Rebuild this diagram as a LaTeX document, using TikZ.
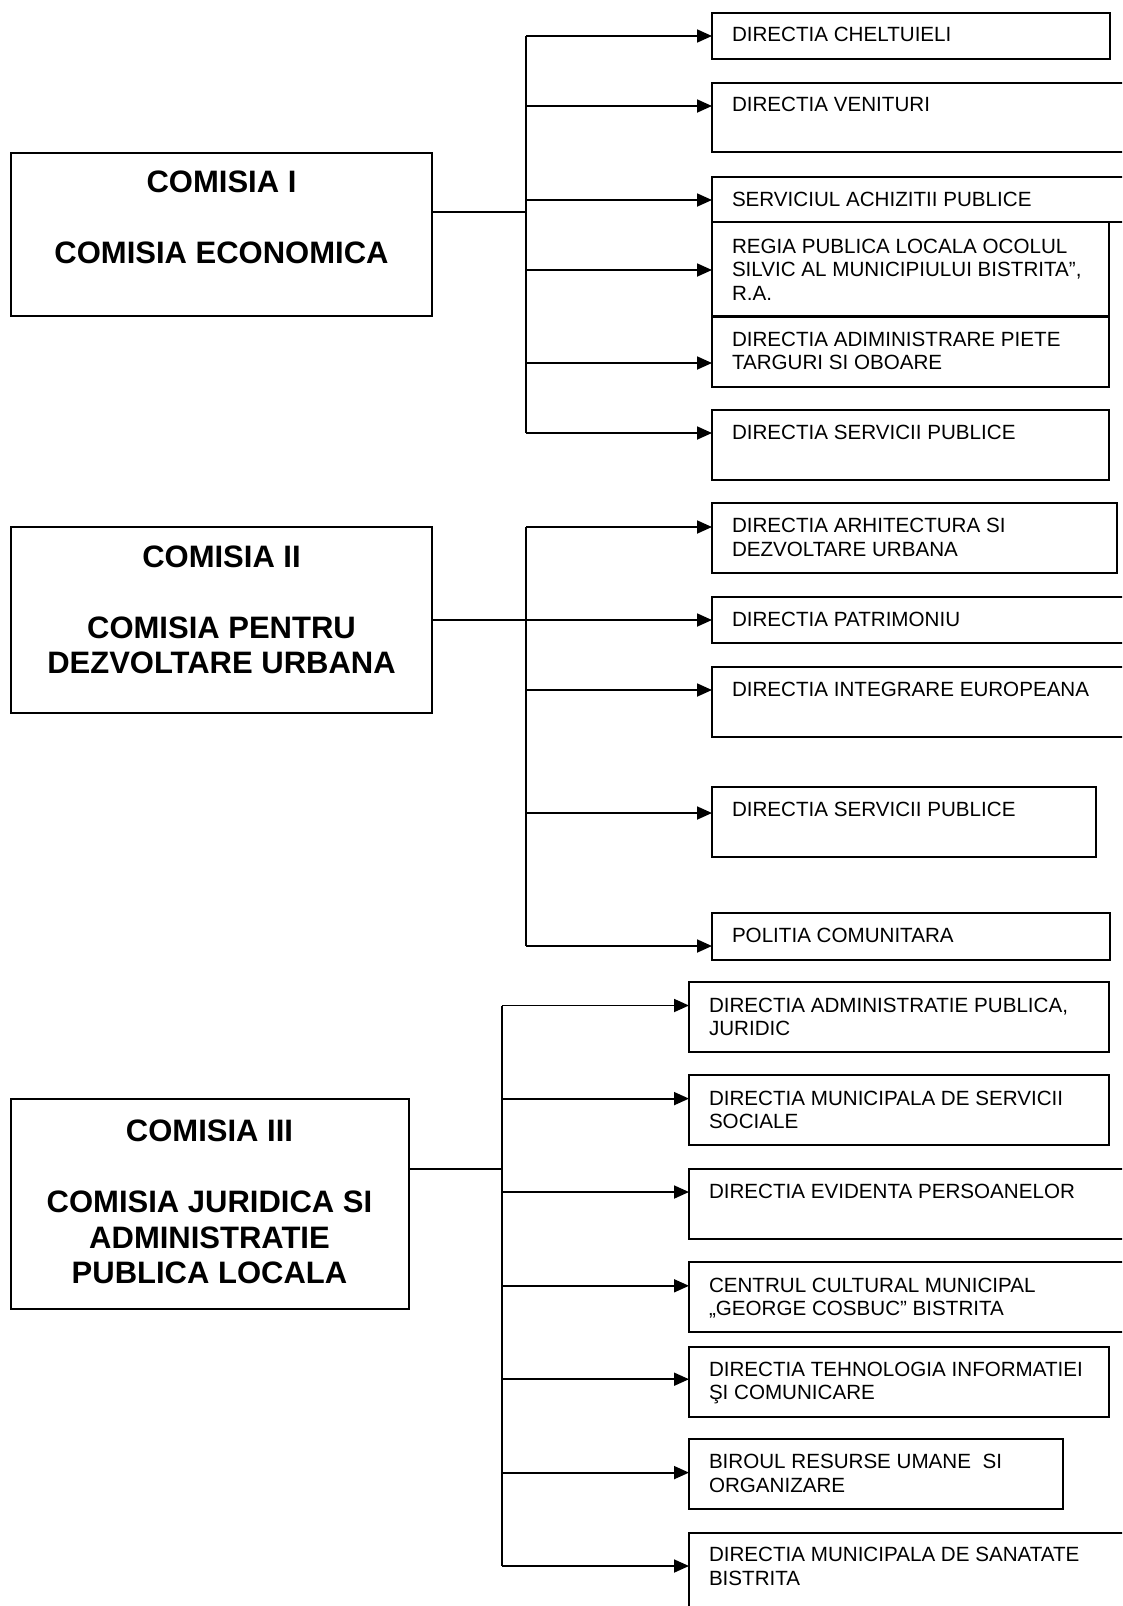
\documentclass[tikz,border=0pt]{standalone}
\usepackage{fontspec}
\setmainfont{Liberation Sans}
\usetikzlibrary{arrows.meta}
\tikzset{
  cbox/.style={draw=black,line width=2pt,inner sep=0pt,outer sep=0pt},
  mbox/.style={draw=black,line width=2pt,inner sep=0pt,outer sep=0pt},
  ctext/.style={inner sep=0pt,outer sep=0pt,align=left,anchor=north west,
    font=\fontsize{20.6pt}{23.3pt}\selectfont},
  mtext/.style={inner sep=0pt,outer sep=0pt,align=center,anchor=north,
    font=\fontsize{31pt}{35.5pt}\selectfont\bfseries},
  ln/.style={line width=1.8pt,draw=black},
  arr/.style={line width=1.8pt,draw=black,-{Triangle[length=15pt,width=13pt]}},
}
% name, left, top, right, bottom, first-line centre y, text
\newcommand{\chbox}[7]{%
  \node[cbox,minimum width={#4-#2},minimum height={#5-#3},anchor=north west] (#1) at (#2,#3) {};
  \node[ctext] (#1t) at ({#2+20},{#6-7.4}) {#7};
}
\begin{document}
\begin{tikzpicture}[x=1pt,y=-1pt]
\useasboundingbox (0,0) rectangle (1122,1606);
\clip (0,0) rectangle (1122,1606);

% ================= SECTION I =================
\node[mbox,minimum width=421,minimum height=163,anchor=north west] (c1) at (11,153) {};
\node[mtext] (c1t) at (221.5,170.6) {COMISIA I\\[35.5pt]COMISIA ECONOMICA};

\chbox{a1}{712}{13}{1110}{59}{35}{DIRECTIA CHELTUIELI}
\chbox{a2}{712}{83}{1140}{152}{105}{DIRECTIA VENITURI}
\chbox{a3}{712}{177}{1140}{222}{199.5}{SERVICIUL ACHIZITII PUBLICE}
\chbox{a4}{712}{222}{1109}{316}{246.7}{REGIA PUBLICA LOCALA OCOLUL\\SILVIC AL MUNICIPIULUI BISTRITA”,\\R.A.}
\chbox{a5}{712}{317}{1109}{387}{339.3}{DIRECTIA ADIMINISTRARE PIETE\\TARGURI SI OBOARE}
\chbox{a6}{712}{410}{1109}{480}{432.7}{DIRECTIA SERVICII PUBLICE}

\coordinate (k1) at (526,212);
\coordinate (s1a) at (526,36);
\coordinate (s1b) at (526,106);
\coordinate (s1c) at (526,200);
\coordinate (s1d) at (526,270);
\coordinate (s1e) at (526,363);
\coordinate (s1f) at (526,433);

\draw[ln] (k1 -| c1.east) -- (k1);
\draw[ln] (s1a) -- (s1f);
\draw[arr] (s1a) -- (s1a -| a1.west);
\draw[arr] (s1b) -- (s1b -| a2.west);
\draw[arr] (s1c) -- (s1c -| a3.west);
\draw[arr] (s1d) -- (s1d -| a4.west);
\draw[arr] (s1e) -- (s1e -| a5.west);
\draw[arr] (s1f) -- (s1f -| a6.west);

% ================= SECTION II =================
\node[mbox,minimum width=421,minimum height=186,anchor=north west] (c2) at (11,527) {};
\node[mtext] (c2t) at (221.5,545.6) {COMISIA II\\[35.5pt]COMISIA PENTRU\\DEZVOLTARE URBANA};

\chbox{b1}{712}{503}{1117}{573}{526}{DIRECTIA ARHITECTURA SI\\DEZVOLTARE URBANA}
\chbox{b2}{712}{597}{1140}{643}{619.3}{DIRECTIA PATRIMONIU}
\chbox{b3}{712}{667}{1140}{737}{690}{DIRECTIA INTEGRARE EUROPEANA}
\chbox{b4}{712}{787}{1096}{857}{810}{DIRECTIA SERVICII PUBLICE}
\chbox{b5}{712}{913}{1110}{960}{936}{POLITIA COMUNITARA}

\coordinate (s2a) at (526,527);
\coordinate (s2b) at (526,620);
\coordinate (s2c) at (526,690);
\coordinate (s2d) at (526,813);
\coordinate (s2e) at (526,946);

\draw[ln] (s2b -| c2.east) -- (s2b);
\draw[ln] (s2a) -- (s2e);
\draw[arr] (s2a) -- (s2a -| b1.west);
\draw[arr] (s2b) -- (s2b -| b2.west);
\draw[arr] (s2c) -- (s2c -| b3.west);
\draw[arr] (s2d) -- (s2d -| b4.west);
\draw[arr] (s2e) -- (s2e -| b5.west);

% ================= SECTION III =================
\node[mbox,minimum width=397.5,minimum height=209.5,anchor=north west] (c3) at (11,1099) {};
\node[mtext] (c3t) at (209.5,1120) {COMISIA III\\[35.5pt]COMISIA JURIDICA SI\\ADMINISTRATIE\\PUBLICA LOCALA};

\chbox{d1}{689}{982}{1109}{1052}{1005.5}{DIRECTIA ADMINISTRATIE PUBLICA,\\JURIDIC}
\chbox{d2}{689}{1075}{1109}{1145}{1098.6}{DIRECTIA MUNICIPALA DE SERVICII\\SOCIALE}
\chbox{d3}{689}{1169}{1140}{1239}{1191.2}{DIRECTIA EVIDENTA PERSOANELOR}
\chbox{d4}{689}{1262}{1140}{1332}{1285.4}{CENTRUL CULTURAL MUNICIPAL\\„GEORGE COSBUC” BISTRITA}
\chbox{d5}{689}{1347}{1109}{1417}{1369.2}{DIRECTIA TEHNOLOGIA INFORMATIEI\\ŞI COMUNICARE}
\chbox{d6}{689}{1439}{1063}{1509}{1461.8}{BIROUL RESURSE UMANE\ \ SI\\ORGANIZARE}
\chbox{d7}{689}{1533}{1140}{1625}{1554.9}{DIRECTIA MUNICIPALA DE SANATATE\\BISTRITA}

\coordinate (k3) at (502,1169);
\coordinate (s3a) at (502,1005.5);
\coordinate (s3b) at (502,1098.6);
\coordinate (s3c) at (502,1192);
\coordinate (s3d) at (502,1285.8);
\coordinate (s3e) at (502,1379.2);
\coordinate (s3f) at (502,1472.6);
\coordinate (s3g) at (502,1566);

\draw[ln] (k3 -| c3.east) -- (k3);
\draw[ln] (s3a) -- (s3g);
\draw[arr] (s3a) -- (s3a -| d1.west);
\draw[arr] (s3b) -- (s3b -| d2.west);
\draw[arr] (s3c) -- (s3c -| d3.west);
\draw[arr] (s3d) -- (s3d -| d4.west);
\draw[arr] (s3e) -- (s3e -| d5.west);
\draw[arr] (s3f) -- (s3f -| d6.west);
\draw[arr] (s3g) -- (s3g -| d7.west);
\end{tikzpicture}
\end{document}
